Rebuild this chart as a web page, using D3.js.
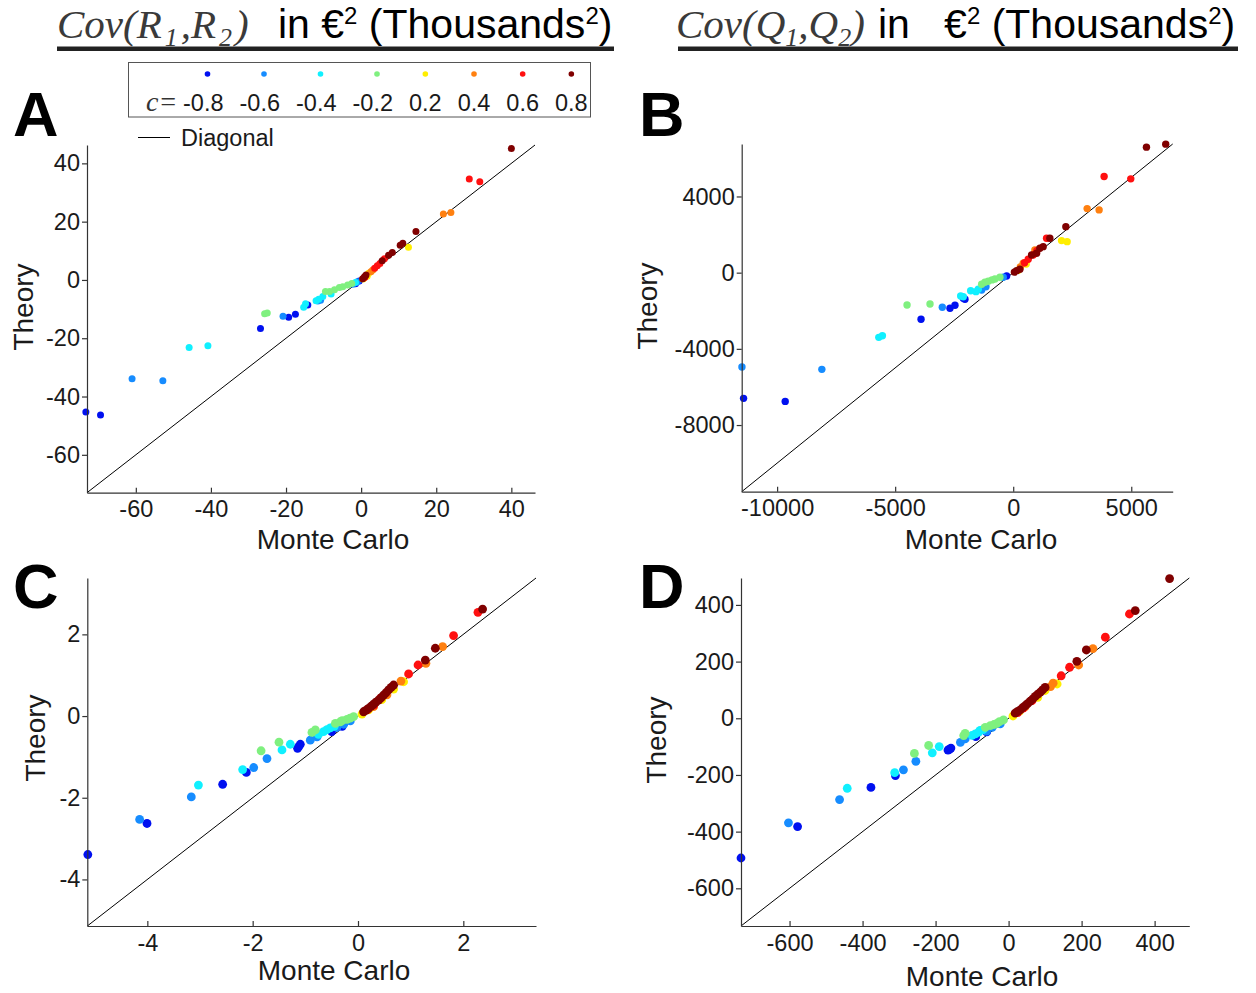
<!DOCTYPE html>
<html>
<head>
<meta charset="utf-8">
<script src="https://cdn.jsdelivr.net/npm/d3@7/dist/d3.min.js"></script>
<style>
  html, body { margin: 0; padding: 0; background: #fff; }
  svg { display: block; }
  .pre { white-space: pre; }
</style>
</head>
<body>
<svg id="chart" width="1256" height="993"></svg>
<script>
// ---------------- DATA ----------------
const cValues = [-0.8, -0.6, -0.4, -0.2, 0.2, 0.4, 0.6, 0.8];
const cColors = ["#0010f0", "#168cff", "#10f0ff", "#7ff07f", "#ffee00", "#ff8010", "#ff1010", "#800000"];

// [Monte Carlo, Theory, c]
const dataA = [
  [-73.3,-45.3,-0.8],[-69.4,-46.3,-0.8],[-26.8,-16.7,-0.8],[-19.3,-12.8,-0.8],[-17.5,-11.8,-0.8],[-14.2,-8.6,-0.8],[-1.5,-1.3,-0.8],[-0.5,-0.4,-0.8],
  [-61.0,-33.9,-0.6],[-52.8,-34.6,-0.6],[-20.8,-12.5,-0.6],[-11.5,-7.2,-0.6],[-10.8,-7.0,-0.6],[-2.2,-1.5,-0.6],[-1.0,-0.6,-0.6],
  [-45.8,-23.2,-0.4],[-40.8,-22.6,-0.4],[-8.0,-4.8,-0.4],[-10.2,-5.7,-0.4],[-11.3,-6.6,-0.4],[-12.0,-7.1,-0.4],[-14.8,-8.2,-0.4],[-15.3,-9.4,-0.4],[-1.5,-0.9,-0.4],
  [-25.7,-11.6,-0.2],[-25.0,-11.3,-0.2],[-3.6,-1.7,-0.2],[-4.9,-2.3,-0.2],[-5.8,-2.6,-0.2],[-7.1,-3.4,-0.2],[-8.4,-4.0,-0.2],[-9.5,-4.0,-0.2],[-2.5,-1.2,-0.2],
  [12.6,11.2,0.2],[2.0,2.3,0.2],[1.6,1.3,0.2],[0.5,0.3,0.2],
  [21.9,22.6,0.4],[23.9,23.1,0.4],[3.1,3.4,0.4],[2.6,2.8,0.4],[0.8,0.7,0.4],
  [28.8,34.6,0.6],[31.6,33.7,0.6],[6.2,7.3,0.6],[4.3,4.9,0.6],[5.0,5.6,0.6],[3.6,4.0,0.6],[1.0,0.9,0.6],
  [40.0,45.1,0.8],[14.6,16.6,0.8],[11.1,12.6,0.8],[10.4,11.9,0.8],[8.3,9.4,0.8],[7.3,8.5,0.8],[5.6,6.6,0.8],[1.3,1.7,0.8],[0.9,1.1,0.8],[0.4,0.4,0.8]
];
const dataB = [
  [-11421,-6600,-0.8],[-9657,-6758,-0.8],[-3904,-2449,-0.8],[-2678,-1871,-0.8],[-2466,-1713,-0.8],[-2043,-1398,-0.8],[-2115,-1345,-0.8],[-279,-173,-0.8],
  [-11490,-4955,-0.6],[-8105,-5076,-0.6],[-3003,-1818,-0.6],[-1155,-736,-0.6],[-1337,-909,-0.6],[-423,-242,-0.6],
  [-5694,-3395,-0.4],[-5541,-3311,-0.4],[-1480,-872,-0.4],[-1802,-946,-0.4],[-1578,-998,-0.4],[-2225,-1224,-0.4],[-2115,-1261,-0.4],
  [-4497,-1697,-0.2],[-3524,-1645,-0.2],[-563,-242,-0.2],[-774,-331,-0.2],[-1058,-452,-0.2],[-1337,-610,-0.2],[-1200,-500,-0.2],[-900,-380,-0.2],
  [2047,1682,0.2],[2284,1629,0.2],[550,450,0.2],[200,120,0.2],
  [3131,3363,0.4],[3638,3295,0.4],[918,1193,0.4],[423,494,0.4],[300,300,0.4],
  [3850,5045,0.6],[4979,4924,0.6],[1413,1808,0.6],[846,930,0.6],[635,704,0.6],[480,520,0.6],[1000,1150,0.6],
  [6460,6747,0.8],[5643,6590,0.8],[2229,2417,0.8],[1552,1808,0.8],[1269,1366,0.8],[1129,1282,0.8],[990,1019,0.8],[778,930,0.8],[283,179,0.8],[144,105,0.8],[50,30,0.8]
];
const dataC = [
  [-1.095,-0.69,-0.8],[-1.147,-0.79,-0.8],[-1.12,-0.74,-0.8],[-2.12,-1.38,-0.8],[-2.57,-1.67,-0.8],[-4.006,-2.63,-0.8],[-5.13,-3.39,-0.8],[-0.5,-0.38,-0.8],[-0.3,-0.25,-0.8],
  [-0.146,-0.12,-0.6],[-0.27,-0.2,-0.6],[-0.906,-0.59,-0.6],[-0.778,-0.51,-0.6],[-1.728,-1.04,-0.6],[-1.98,-1.26,-0.6],[-3.165,-1.98,-0.6],[-4.146,-2.53,-0.6],[-0.4,-0.28,-0.6],
  [-0.526,-0.29,-0.4],[-0.653,-0.38,-0.4],[-0.589,-0.33,-0.4],[-1.285,-0.69,-0.4],[-1.443,-0.83,-0.4],[-2.19,-1.31,-0.4],[-3.03,-1.69,-0.4],[-0.45,-0.25,-0.4],[-0.75,-0.45,-0.4],
  [-0.084,-0.016,-0.2],[-0.209,-0.08,-0.2],[-0.336,-0.14,-0.2],[-0.43,-0.18,-0.2],[-0.81,-0.34,-0.2],[-0.874,-0.40,-0.2],[-1.5,-0.64,-0.2],[-1.84,-0.85,-0.2],[-0.3,-0.11,-0.2],[-0.15,-0.05,-0.2],
  [0.866,0.84,0.2],[0.676,0.66,0.2],[0.076,0.05,0.2],[0.45,0.40,0.2],[0.2,0.15,0.2],
  [1.607,1.70,0.4],[1.29,1.29,0.4],[0.816,0.857,0.4],[0.296,0.23,0.4],[0.55,0.52,0.4],
  [2.278,2.54,0.6],[1.815,1.97,0.6],[1.14,1.25,0.6],[0.961,1.03,0.6],[0.423,0.43,0.6],[0.3,0.27,0.6],[0.18,0.16,0.6],
  [2.366,2.62,0.8],[1.468,1.66,0.8],[1.278,1.37,0.8],[0.676,0.76,0.8],[0.581,0.64,0.8],[0.486,0.51,0.8],[0.391,0.39,0.8],[0.296,0.29,0.8],[0.201,0.19,0.8],[0.106,0.105,0.8],
  [0.63,0.70,0.8],[0.53,0.57,0.8],[0.44,0.45,0.8],[0.34,0.34,0.8],[0.25,0.24,0.8],[0.15,0.14,0.8]
];
const dataD = [
  [-162,-110,-0.8],[-158,-105,-0.8],[-166,-112,-0.8],[-310,-202,-0.8],[-377,-244,-0.8],[-578,-382,-0.8],[-733,-493,-0.8],[-90,-65,-0.8],[-60,-48,-0.8],
  [-23,-20,-0.6],[-45,-32,-0.6],[-132,-85,-0.6],[-119,-73,-0.6],[-254,-152,-0.6],[-288,-182,-0.6],[-463,-287,-0.6],[-603,-369,-0.6],[-60,-45,-0.6],
  [-78,-43,-0.4],[-91,-55,-0.4],[-82,-49,-0.4],[-190,-100,-0.4],[-209,-122,-0.4],[-312,-192,-0.4],[-442,-247,-0.4],[-70,-40,-0.4],[-100,-60,-0.4],
  [-14,-6,-0.2],[-32,-18,-0.2],[-50,-26,-0.2],[-64,-32,-0.2],[-119,-53,-0.2],[-123,-61,-0.2],[-219,-96,-0.2],[-258,-124,-0.2],[-40,-22,-0.2],[-25,-12,-0.2],
  [133,121,0.2],[100,98,0.2],[12,8,0.2],[80,74,0.2],[30,25,0.2],
  [231,246,0.4],[192,188,0.4],[122,124,0.4],[115,112,0.4],[45,40,0.4],
  [331,368,0.6],[265,286,0.6],[167,180,0.6],[144,150,0.6],[64,62,0.6],[40,36,0.6],[25,20,0.6],
  [441,493,0.8],[347,380,0.8],[213,241,0.8],[187,201,0.8],[100,109,0.8],[87,92,0.8],[73,77,0.8],[59,60,0.8],[46,45,0.8],[32,30,0.8],[18,18,0.8],
  [93,100,0.8],[80,85,0.8],[66,68,0.8],[52,52,0.8],[39,38,0.8],[25,24,0.8]
];

const ticksA = [-60, -40, -20, 0, 20, 40];
const ticksBx = [-10000, -5000, 0, 5000];
const ticksBy = [-8000, -4000, 0, 4000];
const ticksC = [-4, -2, 0, 2];
const ticksD = [-600, -400, -200, 0, 200, 400];

const domainA = [-73, 46.3];
const domainB = [-11500, 6755];
const domainC = [-5.14, 3.38];
const domainD = [-733, 495];

const xLabel = "Monte Carlo";
const yLabel = "Theory";

// ---------------- DRAW ----------------
const SANS = "Arial, 'Liberation Sans', Helvetica, sans-serif";
const SERIF = "'Times New Roman', 'Liberation Serif', Times, serif";
const svg = d3.select("#chart");
const color = d3.scaleOrdinal().domain(cValues).range(cColors);

function panel(cfg) {
  const x = d3.scaleLinear().domain(cfg.domain).range([cfg.left, cfg.right]);
  const y = d3.scaleLinear().domain(cfg.domain).range([cfg.bottom, cfg.top]);
  const g = svg.append("g");

  g.append("line")
    .attr("x1", x(cfg.domain[0])).attr("y1", y(cfg.domain[0]))
    .attr("x2", x(cfg.domain[1])).attr("y2", y(cfg.domain[1]))
    .attr("stroke", "#000").attr("stroke-width", 1);

  const pts = cfg.data.slice().sort((a, b) => a[2] - b[2]);
  g.append("g").selectAll("circle").data(pts).join("circle")
    .attr("cx", d => x(d[0])).attr("cy", d => y(d[1]))
    .attr("r", cfg.r).attr("fill", d => color(d[2]));

  const ax = g.append("g").attr("transform", `translate(0,${cfg.bottom})`)
    .call(d3.axisBottom(x).tickValues(cfg.xt).tickSize(-5).tickSizeOuter(0).tickPadding(8));
  const ay = g.append("g").attr("transform", `translate(${cfg.left},0)`)
    .call(d3.axisLeft(y).tickValues(cfg.yt).tickSize(5).tickSizeOuter(0).tickPadding(2));
  [ax, ay].forEach(a => {
    a.selectAll("path").attr("stroke", "#333").attr("stroke-width", 1.2);
    a.selectAll("line").attr("stroke", "#333").attr("stroke-width", 1.2);
    a.selectAll("text").attr("font-family", SANS).attr("font-size", 23.5).attr("fill", "#1a1a1a")
      .text(d => (d < 0 ? "-" : "") + Math.abs(d));
  });

  g.append("text").attr("x", cfg.xlx).attr("y", cfg.xly).attr("text-anchor", "middle")
    .attr("font-family", SANS).attr("font-size", 28).attr("fill", "#1a1a1a").text(xLabel);
  g.append("text").attr("transform", `translate(${cfg.ylx},${cfg.yly}) rotate(-90)`)
    .attr("text-anchor", "middle")
    .attr("font-family", SANS).attr("font-size", 28).attr("fill", "#1a1a1a").text(yLabel);
  g.append("text").attr("x", cfg.lx).attr("y", cfg.ly)
    .attr("font-family", SANS).attr("font-size", 63).attr("font-weight", "bold").attr("fill", "#000")
    .text(cfg.letter);
}

panel({ letter: "A", data: dataA, domain: domainA, xt: ticksA, yt: ticksA, r: 3.5,
  left: 87, right: 535, top: 145, bottom: 492.7, xlx: 333, xly: 549, ylx: 33, yly: 307, lx: 13, ly: 136 });
panel({ letter: "B", data: dataB, domain: domainB, xt: ticksBx, yt: ticksBy, r: 3.7,
  left: 741.7, right: 1172.7, top: 144, bottom: 491.7, xlx: 981, xly: 549, ylx: 657, yly: 306, lx: 639, ly: 136 });
panel({ letter: "C", data: dataC, domain: domainC, xt: ticksC, yt: ticksC, r: 4.4,
  left: 87.3, right: 536, top: 578, bottom: 926, xlx: 334, xly: 980, ylx: 45, yly: 738, lx: 13, ly: 608 });
panel({ letter: "D", data: dataD, domain: domainD, xt: ticksD, yt: ticksD, r: 4.4,
  left: 741, right: 1189.3, top: 578, bottom: 926, xlx: 982, xly: 986, ylx: 666, yly: 740, lx: 639, ly: 608 });

// ---------------- TITLES ----------------
function title(x0, letterVar, subGap, xin, inText) {
  const t = svg.append("text").attr("class", "pre").attr("x", x0).attr("y", 37.5).attr("font-size", 41);
  const ser = { "font-family": SERIF, "font-style": "italic", fill: "#3a3a3a", "font-size": 41 };
  const add = (txt, attrs) => { const s = t.append("tspan").text(txt); Object.entries(attrs).forEach(([k, v]) => s.attr(k, v)); return s; };
  add("Cov(" + letterVar, ser);
  add("1", Object.assign({}, ser, { "font-size": 26, dy: 8, dx: subGap }));
  add(",", Object.assign({}, ser, { dy: -8, dx: subGap }));
  add(letterVar, ser);
  add("2", Object.assign({}, ser, { "font-size": 26, dy: 8, dx: subGap }));
  add(")", Object.assign({}, ser, { dy: -8, dx: subGap }));
  const sans = { "font-family": SANS, fill: "#000", "font-size": 41 };
  add(inText, Object.assign({}, sans, { x: xin }));
  add("2", Object.assign({}, sans, { "font-size": 24, dy: -14 }));
  add(" (Thousands", Object.assign({}, sans, { dy: 14 }));
  add("2", Object.assign({}, sans, { "font-size": 24, dy: -14 }));
  add(")", Object.assign({}, sans, { dy: 14 }));
}
title(57, "R", 3, 278, "in €");
title(676, "Q", 0, 878, "in   €");
svg.append("rect").attr("x", 57).attr("y", 46.5).attr("width", 557).attr("height", 4.5).attr("fill", "#222");
svg.append("rect").attr("x", 678).attr("y", 46.5).attr("width", 560).attr("height", 4.5).attr("fill", "#222");

// ---------------- LEGEND ----------------
const leg = svg.append("g");
leg.append("rect").attr("x", 128.5).attr("y", 62.5).attr("width", 462).attr("height", 54.5)
  .attr("fill", "none").attr("stroke", "#555").attr("stroke-width", 1);
leg.append("text").attr("x", 146).attr("y", 111).attr("font-family", SERIF).attr("font-style", "italic")
  .attr("font-size", 28).attr("fill", "#333").text("c=");
let lx = 183;
cValues.forEach(c => {
  const lab = (c < 0 ? "-" : "") + Math.abs(c).toFixed(1);
  const t = leg.append("text").attr("x", lx).attr("y", 111).attr("font-family", SANS)
    .attr("font-size", 23.5).attr("fill", "#1a1a1a").text(lab);
  const w = t.node().getComputedTextLength();
  const numW = w * (c < 0 ? 0.79 : 1);
  leg.append("circle").attr("cx", lx + w - numW / 2).attr("cy", 74).attr("r", 2.8).attr("fill", color(c));
  lx += w + 16;
});
leg.append("line").attr("x1", 138).attr("x2", 170).attr("y1", 137.5).attr("y2", 137.5)
  .attr("stroke", "#000").attr("stroke-width", 1);
leg.append("text").attr("x", 181).attr("y", 146).attr("font-family", SANS).attr("font-size", 23.5)
  .attr("fill", "#1a1a1a").text("Diagonal");
</script>
</body>
</html>
